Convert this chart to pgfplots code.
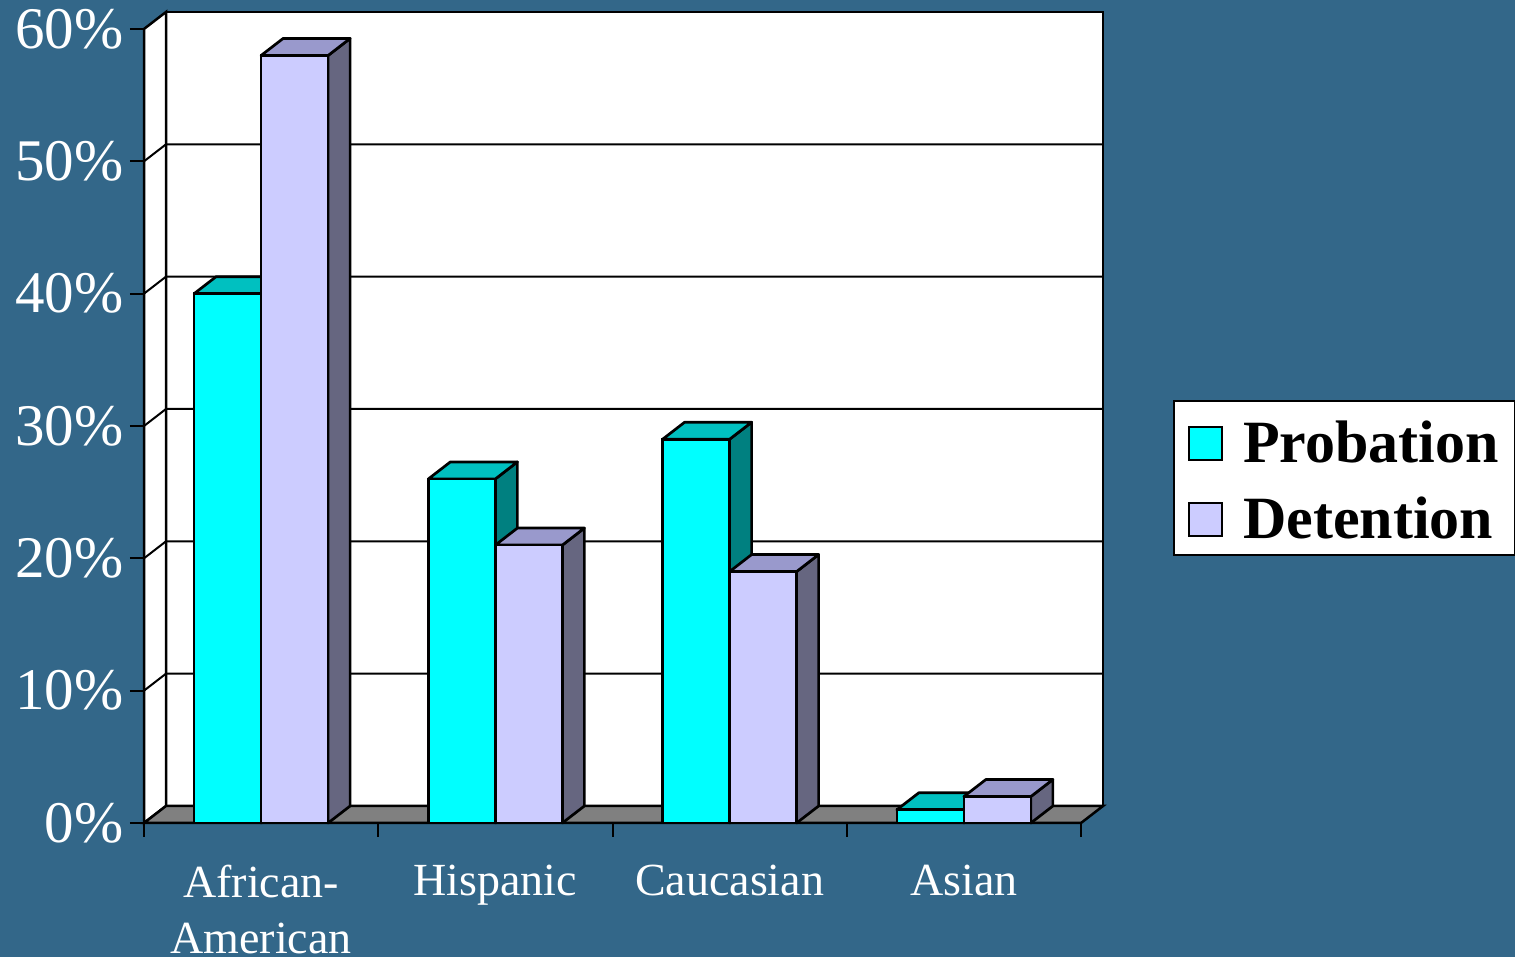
\documentclass[border=0pt]{standalone}
\usepackage{pgfplots}
\pgfplotsset{compat=1.18}
\usepackage{fontspec}
\setmainfont{Liberation Serif}

\definecolor{bg}{RGB}{51,103,137}
\definecolor{pfront}{RGB}{0,255,255}
\definecolor{ptop}{RGB}{0,192,192}
\definecolor{pside}{RGB}{0,128,128}
\definecolor{dfront}{RGB}{204,204,255}
\definecolor{dtop}{RGB}{153,153,204}
\definecolor{dside}{RGB}{102,102,128}
\definecolor{floorgray}{RGB}{128,128,128}

% depth of the 3d effect and pt per percent
\def\dx{22pt}
\def\dy{17pt}
\def\yu{13.2333}

\pgfdeclareplotmark{empty}{}

% cuboid drawn at the top centre of a bar: #1 left edge, #2 right edge
\newcommand\cuboid[5]{%
  \pgfmathsetlengthmacro\hh{\hval*\yu}%
  \filldraw[#5,draw=black,line width=2.7pt,line join=round]
    (#2,0) -- ++(\dx,\dy) -- ++(0,-\hh) -- (#2,-\hh) -- cycle;
  \filldraw[#4,draw=black,line width=2.7pt,line join=round]
    (#1,0) -- (#2,0) -- ++(\dx,\dy) -- ([xshift=\dx,yshift=\dy]#1,0) -- cycle;
  \filldraw[#3,draw=black,line width=2.7pt,line join=round]
    (#1,0) rectangle (#2,-\hh);
}

\begin{document}
\begin{tikzpicture}
\useasboundingbox (0,0) rectangle (1515pt,957pt);
\fill[bg] (0,0) rectangle (1515pt,957pt);

% walls and floor
\filldraw[white,draw=black,line width=2.5pt] (166pt,151pt) rectangle (1103pt,945pt);
\filldraw[white,draw=black,line width=2.5pt] (144pt,134pt) -- (166pt,151pt) -- (166pt,945pt) -- (144pt,928pt) -- cycle;
\foreach \k in {1,...,5}{
  \draw[black,line width=2pt] (144pt,134pt+\k*132.333pt) -- (166pt,151pt+\k*132.333pt) -- (1103pt,151pt+\k*132.333pt);
}
\filldraw[floorgray,draw=black,line width=2.5pt] (144pt,134pt) -- (1081pt,134pt) -- (1103pt,151pt) -- (166pt,151pt) -- cycle;

\begin{axis}[
    at={(144pt,134pt)}, anchor=south west,
    scale only axis, width=937pt, height=794pt,
    xmin=0, xmax=4, ymin=0, ymax=60,
    clip=false,
    axis x line*=bottom, axis y line*=left,
    axis line style={black,line width=2.5pt,-},
    xtick={0.5,1.5,2.5,3.5},
    xticklabels={{African-\\American},Hispanic,Caucasian,Asian},
    minor xtick={0,1,2,3,4},
    major x tick style={draw=none},
    minor x tick style={black,line width=2pt},
    ytick={0,10,...,60},
    yticklabels={0\%,10\%,20\%,30\%,40\%,50\%,60\%},
    y tick style={black,line width=2pt},
    tick align=outside,
    major tick length=14pt, minor tick length=14pt,
    xticklabel style={white,align=center,font=\fontsize{46}{56}\selectfont,yshift=-25pt},
    yticklabel style={white,font=\fontsize{59}{66}\selectfont,xshift=-3pt},
    legend style={at={(1.098,0.5327)},anchor=north west,draw=black,line width=2pt,fill=white,
      font=\fontsize{60}{66}\selectfont\bfseries,
      nodes={inner sep=2pt,text height=46pt,text depth=2pt},
      row sep=24pt, inner xsep=14pt, inner ysep=13pt},
    legend cell align=left,
    legend image code/.code={\draw[#1,draw=black,line width=2pt] (0pt,-20pt) rectangle (33pt,13pt);
      \path (51pt,0pt);},
]
\addplot[ybar,bar width=67pt,bar shift=-33.5pt,fill=pfront,draw=black,line width=2.7pt]
  coordinates {(0.5,40) (1.5,26) (2.5,29) (3.5,1)};
\addlegendentry{Probation}
\addplot[ybar,bar width=67pt,bar shift=33.5pt,fill=dfront,draw=black,line width=2.7pt]
  coordinates {(0.5,58) (1.5,21) (2.5,19) (3.5,2)};
\addlegendentry{Detention}

% 3d faces, probation then detention
\addplot[scatter,only marks,mark=empty,forget plot,
  visualization depends on=rawy \as \hval,
  scatter/@pre marker code/.code={\cuboid{-67pt}{0pt}{pfront}{ptop}{pside}},
  scatter/@post marker code/.code={}]
  coordinates {(0.5,40) (1.5,26) (2.5,29) (3.5,1)};
\addplot[scatter,only marks,mark=empty,forget plot,
  visualization depends on=rawy \as \hval,
  scatter/@pre marker code/.code={\cuboid{0pt}{67pt}{dfront}{dtop}{dside}},
  scatter/@post marker code/.code={}]
  coordinates {(0.5,58) (1.5,21) (2.5,19) (3.5,2)};
\end{axis}
\end{tikzpicture}
\end{document}
